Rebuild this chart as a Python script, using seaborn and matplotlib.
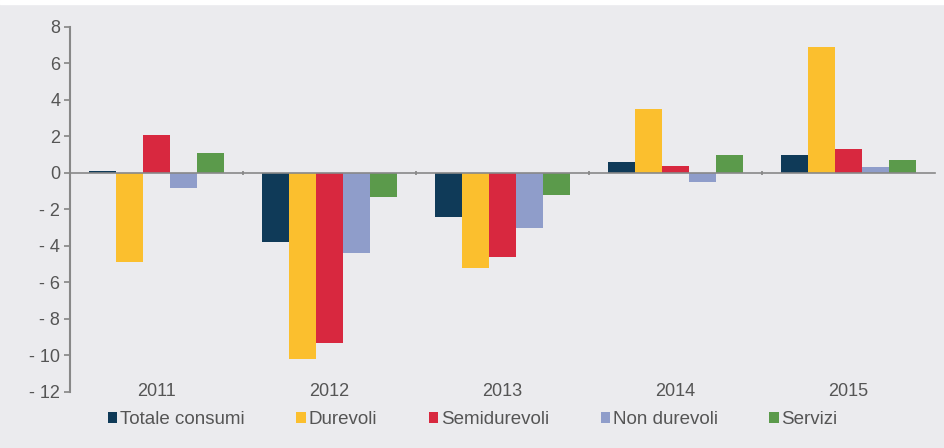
import pandas as pd
import matplotlib
matplotlib.use('Agg')
import matplotlib.pyplot as plt
import seaborn as sns
from matplotlib.ticker import FuncFormatter

years = ['2011', '2012', '2013', '2014', '2015']
series = ['Totale consumi', 'Durevoli', 'Semidurevoli', 'Non durevoli', 'Servizi']
totale = [0.1, -3.8, -2.4, 0.6, 1.0]
durevoli = [-4.9, -10.2, -5.2, 3.5, 6.9]
semidurevoli = [2.1, -9.3, -4.6, 0.4, 1.3]
non_durevoli = [-0.8, -4.4, -3.0, -0.5, 0.3]
servizi = [1.1, -1.3, -1.2, 1.0, 0.7]
colors = ['#0f3a58', '#fbbf2e', '#d8283f', '#8f9dca', '#5b9a4b']

values = [totale, durevoli, semidurevoli, non_durevoli, servizi]
rows = []
for name, vals in zip(series, values):
    for y, v in zip(years, vals):
        rows.append({'Anno': y, 'Serie': name, 'Valore': v})
df = pd.DataFrame(rows)

sns.set_theme(style='white')
plt.rcParams['font.family'] = ['Liberation Sans', 'DejaVu Sans']
bg = '#ebebee'
txt = '#555555'
fs = 13

fig = plt.figure(figsize=(9.44, 4.48), dpi=100, facecolor=bg)
ax = fig.add_axes([0.074, 0.125, 0.916, 0.815])
ax.set_facecolor(bg)

sns.barplot(data=df, x='Anno', y='Valore', hue='Serie', palette=colors,
            width=0.78, gap=0, saturation=1, linewidth=0, ax=ax, legend=True)

ax.set_ylim(-12, 8)
ax.set_xlim(-0.5, 4.5)
ax.set_yticks(range(-12, 9, 2))
ax.yaxis.set_major_formatter(FuncFormatter(lambda v, p: f'- {abs(v):g}' if v < 0 else f'{v:g}'))
ax.tick_params(axis='y', length=4, pad=3, color='#888888', labelcolor=txt, labelsize=fs, left=True)

for s in ['top', 'right']:
    ax.spines[s].set_visible(False)
ax.spines['left'].set_color('#888888')
ax.spines['left'].set_linewidth(1.5)
ax.spines['bottom'].set_position(('data', 0))
ax.spines['bottom'].set_color('#888888')
ax.spines['bottom'].set_linewidth(1.2)
ax.spines['bottom'].set_zorder(5)
ax.set_xticks([0.5, 1.5, 2.5, 3.5])
ax.set_xticklabels([])
ax.tick_params(axis='x', length=3, direction='inout', color='#888888', bottom=True)
for i, y in enumerate(years):
    ax.text(i, -12, y, ha='center', va='center', fontsize=fs, color=txt)

ax.set_xlabel('')
ax.set_ylabel('')
ax.legend(loc='center', bbox_to_anchor=(0.466, -0.075), ncol=5, frameon=False,
          fontsize=13.5, labelcolor=txt, handlelength=0.5, handleheight=0.5,
          handletextpad=0.15, columnspacing=2.75)

fig.patches.append(plt.Rectangle((0, 0.99), 1, 0.01, transform=fig.transFigure,
                                 color='white', zorder=-1))
fig.savefig('out.png', dpi=100, facecolor=bg)
